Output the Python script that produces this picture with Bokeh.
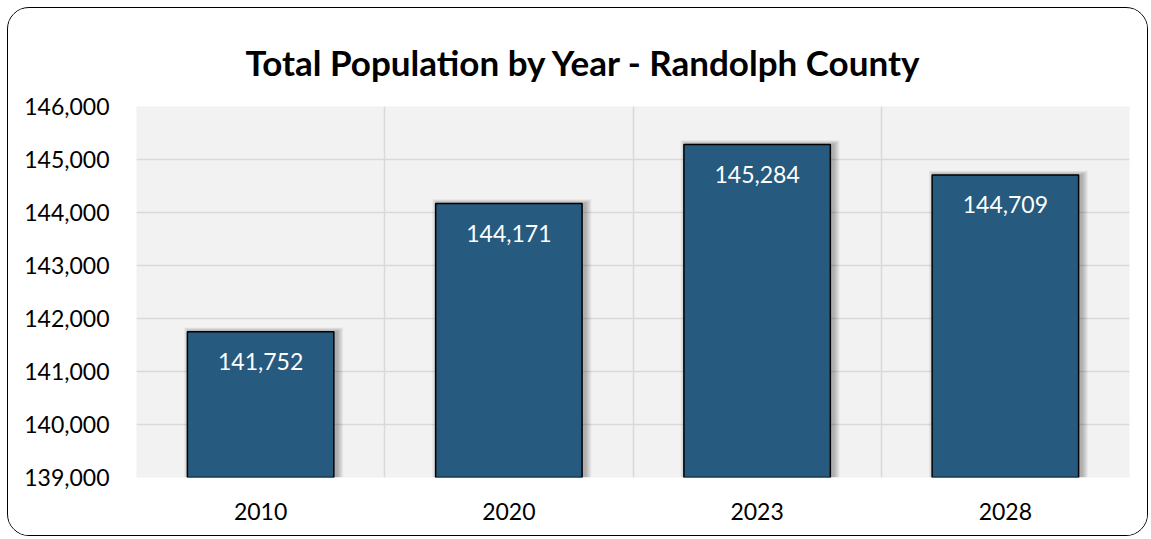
from bokeh.plotting import figure
from bokeh.models import (ColumnDataSource, FixedTicker, NumeralTickFormatter, Range1d)
from bokeh.transform import dodge
from bokeh.core.properties import value
from bokeh.embed import file_html
from bokeh.resources import INLINE

years = ["2010", "2020", "2023", "2028"]
population = [141752, 144171, 145284, 144709]
labels = ["141,752", "144,171", "145,284", "144,709"]
y_ticks = [139000, 140000, 141000, 142000, 143000, 144000, 145000, 146000]
title_text = "Total Population by Year - Randolph County"

FONT = "Lato"
BAR = "#265a7e"

xs = [i + 0.5 for i in range(len(years))]
src = ColumnDataSource(dict(x=xs, top=population, label=labels))

W, H = 1141, 529
MB_L, MB_R, MB_T, MB_B = 128, 20, 98, 60
p = figure(width=W, height=H, output_backend="svg", toolbar_location=None,
           x_range=Range1d(0, len(years)), y_range=Range1d(y_ticks[0], y_ticks[-1]),
           min_border_left=MB_L, min_border_right=MB_R, min_border_top=MB_T, min_border_bottom=MB_B,
           title=title_text)
p.styles = {"border": "1.5px solid black", "border-radius": "22px", "overflow": "hidden",
            "margin-left": "7px", "margin-top": "7px"}
p.background_fill_color = "#f2f2f2"
p.border_fill_color = "white"
p.outline_line_color = None

p.title.align = "left"
p.title.offset = 109
p.title.standoff = 48
p.title.text_font = FONT
p.title.text_font_style = "bold"
p.title.text_font_size = "35px"
p.title.text_color = "black"

# frame size in px, used for pixel-sized shadow offsets
frame_w = W - MB_L - MB_R
frame_h = H - MB_T - MB_B
px_x = len(years) / frame_w
px_y = (y_ticks[-1] - y_ticks[0]) / frame_h

# soft shadow
for k in range(1, 8):
    sh = ColumnDataSource(dict(x=xs, top=[v + (k * 0.6) * px_y for v in population]))
    p.vbar(x=dodge("x", 3 * px_x, range=p.x_range), top="top", bottom=y_ticks[0],
           width=0.59 + 2 * k * px_x * 0.9, source=sh,
           fill_color="black", fill_alpha=0.045, line_color=None)

p.vbar(x="x", top="top", bottom=y_ticks[0], width=0.59, source=src,
       fill_color=BAR, line_color="black", line_width=1.5)

p.text(x="x", y="top", text="label", source=src, y_offset=30,
       text_align="center", text_baseline="middle", text_color="white",
       text_font=value(FONT), text_font_size="23px")

p.xaxis.ticker = FixedTicker(ticks=xs)
p.xaxis.major_label_overrides = {x: y for x, y in zip(xs, years)}
p.yaxis.ticker = FixedTicker(ticks=y_ticks)
p.yaxis.formatter = NumeralTickFormatter(format="0,0")
for ax in (p.xaxis, p.yaxis):
    ax.axis_line_color = None
    ax.major_tick_line_color = None
    ax.minor_tick_line_color = None
    ax.major_tick_out = 0
    ax.major_tick_in = 0
    ax.major_label_text_font = FONT
    ax.major_label_text_color = "black"
    ax.major_label_text_font_size = "23px"
p.yaxis.major_label_standoff = 27
p.xaxis.major_label_standoff = 25

p.xgrid.ticker = FixedTicker(ticks=list(range(len(years) + 1)))
p.ygrid.ticker = FixedTicker(ticks=y_ticks)
for g in (p.xgrid, p.ygrid):
    g.grid_line_color = "#d9d9d9"
    g.grid_line_width = 1.5

open("out.html", "w").write(file_html(p, INLINE))
